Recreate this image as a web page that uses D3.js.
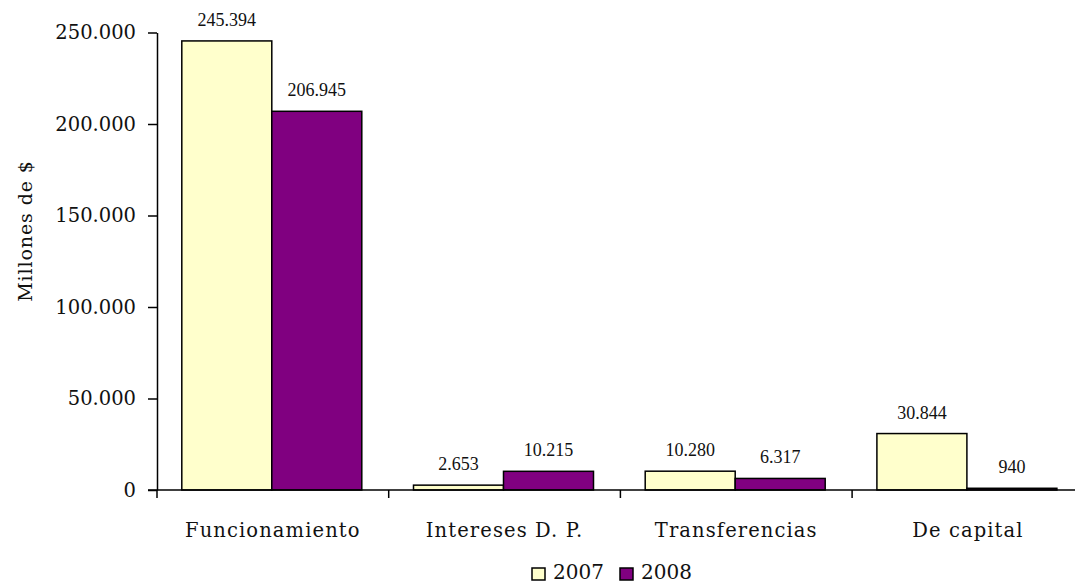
<!DOCTYPE html>
<html>
<head>
<meta charset="utf-8">
<script src="https://cdn.jsdelivr.net/npm/d3@7/dist/d3.min.js"></script>
<style>
  html, body { margin: 0; padding: 0; background: #fff; }
  svg { display: block; }
</style>
</head>
<body>
<svg id="chart" width="1075" height="583"></svg>
<script>
const categories = ["Funcionamiento", "Intereses D. P.", "Transferencias", "De capital"];
const seriesNames = ["2007", "2008"];
const values2007 = [245394, 2653, 10280, 30844];
const values2008 = [206945, 10215, 6317, 940];
const yTicks = [0, 50000, 100000, 150000, 200000, 250000];
const colors = ["#FFFFCC", "#800080"];

const seriesValues = [values2007, values2008];
const svg = d3.select("#chart");
const x0 = 157, y0 = 490, catW = 231.7;

const x = d3.scaleBand().domain(categories).range([x0, x0 + catW * categories.length]).padding(0);
const xs = d3.scaleBand().domain(seriesNames).range([24.8, 204.8]).padding(0);
const y = d3.scaleLinear().domain([0, 250000]).range([y0, 32.5]);

const fmt = d => d3.format(",")(d).replace(/,/g, ".");

// Y axis
const yAxis = svg.append("g").attr("transform", `translate(${x0},0)`)
  .call(d3.axisLeft(y).tickValues(yTicks).tickFormat(fmt).tickSize(9).tickPadding(12).tickSizeOuter(0));
yAxis.select(".domain").attr("stroke", "#000").attr("stroke-width", 1.5);
yAxis.selectAll(".tick line").attr("stroke", "#000").attr("stroke-width", 1.5);
yAxis.selectAll(".tick text").attr("font-family", "DejaVu Serif").attr("font-size", 19.5).attr("fill", "#111");

// Bars
const groups = svg.append("g").selectAll("g").data(categories).join("g")
  .attr("transform", d => `translate(${x(d)},0)`);
seriesNames.forEach((s, si) => {
  groups.append("rect")
    .attr("x", xs(s))
    .attr("width", xs.bandwidth())
    .attr("y", (d, i) => y(seriesValues[si][i]))
    .attr("height", (d, i) => y0 - y(seriesValues[si][i]))
    .attr("fill", colors[si])
    .attr("stroke", "#000")
    .attr("stroke-width", 1.5);
  groups.append("text")
    .attr("x", xs(s) + xs.bandwidth() / 2)
    .attr("y", (d, i) => y(seriesValues[si][i]) - 15)
    .attr("text-anchor", "middle")
    .attr("font-family", "Liberation Serif")
    .attr("font-size", 18)
    .attr("fill", "#111")
    .text((d, i) => fmt(seriesValues[si][i]));
});

// X axis line
svg.append("line").attr("x1", 148).attr("x2", 1075).attr("y1", y0).attr("y2", y0)
  .attr("stroke", "#000").attr("stroke-width", 1.5);
// category boundary ticks
const bounds = categories.map(c => x(c)).concat([x(categories[categories.length - 1]) + x.bandwidth()]);
svg.append("g").selectAll("line").data(bounds).join("line")
  .attr("x1", d => d).attr("x2", d => d).attr("y1", y0).attr("y2", y0 + 8)
  .attr("stroke", "#000").attr("stroke-width", 1.5);
// category labels
svg.append("g").selectAll("text").data(categories).join("text")
  .attr("x", d => x(d) + x.bandwidth() / 2)
  .attr("y", 537)
  .attr("text-anchor", "middle")
  .attr("font-family", "DejaVu Serif")
  .attr("font-size", 19.5)
  .attr("letter-spacing", 1.1)
  .attr("fill", "#111")
  .text(d => d);

// Y title
svg.append("text")
  .attr("transform", "translate(32,231) rotate(-90)")
  .attr("text-anchor", "middle")
  .attr("font-family", "DejaVu Serif")
  .attr("font-size", 19)
  .attr("letter-spacing", 0.9)
  .attr("fill", "#111")
  .text("Millones de $");

// Legend
const legend = svg.append("g");
const legX = [532, 620];
seriesNames.forEach((s, i) => {
  legend.append("rect").attr("x", legX[i]).attr("y", 568).attr("width", 13).attr("height", 12)
    .attr("fill", colors[i]).attr("stroke", "#000").attr("stroke-width", 1.5);
  legend.append("text").attr("x", legX[i] + 21).attr("y", 579)
    .attr("font-family", "DejaVu Serif").attr("font-size", 20).attr("fill", "#111").text(s);
});
</script>
</body>
</html>
